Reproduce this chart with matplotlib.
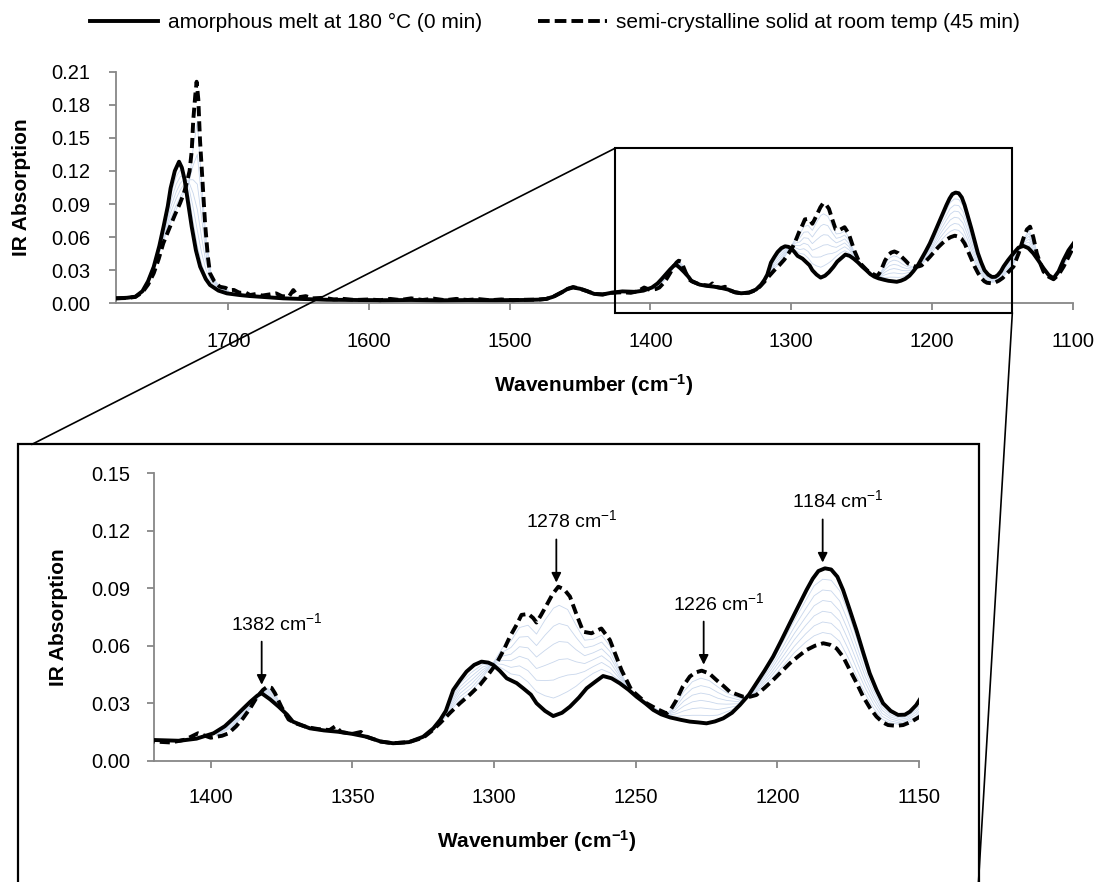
import numpy as np
import matplotlib
matplotlib.use("Agg")
import matplotlib.pyplot as plt
from matplotlib.lines import Line2D
from matplotlib.patches import Rectangle

plt.rcParams['font.family'] = ['Liberation Sans', 'DejaVu Sans']
plt.rcParams['mathtext.fontset'] = 'custom'
plt.rcParams['mathtext.rm'] = 'Liberation Sans'
plt.rcParams['mathtext.it'] = 'Liberation Sans'
plt.rcParams['mathtext.bf'] = 'Liberation Sans:bold'

# ---------------- data ----------------
series_labels = ["amorphous melt at 180 °C (0 min)",
                 "semi-crystalline solid at room temp (45 min)"]

wn_solid = [1780, 1772, 1766, 1761, 1757, 1753, 1749, 1746, 1743, 1741, 1738, 1735, 1733, 1731,
            1729, 1726, 1723, 1720, 1716, 1713, 1707, 1701, 1692, 1685, 1672, 1661, 1645, 1630,
            1610, 1590, 1570, 1550, 1530, 1510, 1490, 1480, 1474, 1469, 1463, 1459, 1455, 1450,
            1445, 1440, 1434, 1428, 1420, 1411, 1405, 1399, 1395, 1392, 1389, 1386, 1383.5, 1382,
            1379, 1376, 1373, 1371, 1368, 1365, 1360, 1355, 1350, 1345, 1340, 1335.6, 1330, 1325,
            1321.4, 1319, 1317, 1314.4, 1312, 1309.7, 1307, 1304.4, 1302, 1300.3, 1298, 1295.5,
            1292, 1289.7, 1287, 1285, 1282, 1279.1, 1276, 1273.2, 1270, 1267.3, 1264, 1261.5,
            1258.5, 1255.6, 1252.5, 1249.7, 1246.5, 1243.8, 1241, 1237.9, 1234, 1230.9, 1228,
            1225, 1222, 1219.1, 1216, 1213.2, 1210, 1207.4, 1204.5, 1201.5, 1198.5, 1195.6,
            1192.6, 1189.7, 1187.5, 1185.5, 1183.2, 1181, 1178.8, 1176.8, 1174.5, 1172.1, 1169.7,
            1167.4, 1165, 1162.7, 1160, 1157.4, 1155, 1153.2, 1151, 1149.1, 1146, 1142.1, 1138.5,
            1135, 1131.5, 1128, 1124.5, 1120.7, 1117, 1113.6, 1110, 1106.5, 1103, 1099.4]
abs_solid = [.0045, .0050, .0060, .0110, .0200, .0330, .0520, .0695, .0880, .1043, .1200, .1284,
             .1230, .1118, .0950, .0695, .0480, .0332, .0220, .0166, .0115, .0090, .0075, .0066,
             .0055, .0045, .0038, .0032, .0030, .0028, .0030, .0027, .0029, .0028, .0030, .0033,
             .0040, .0060, .0100, .0130, .0143, .0132, .0110, .0085, .0080, .0095, .0108, .0104,
             .0115, .0143, .0180, .0221, .0265, .0308, .0340, .0352, .0320, .0282, .0240, .0204,
             .0186, .0169, .0158, .0151, .0140, .0125, .0100, .0091, .0097, .0125, .0169, .0213,
             .0260, .0369, .0420, .0465, .0500, .0517, .0512, .0500, .0470, .0430, .0405, .0378,
             .0345, .0300, .0260, .0233, .0250, .0282, .0330, .0378, .0415, .0442, .0430, .0404,
             .0370, .0334, .0298, .0265, .0242, .0226, .0213, .0204, .0200, .0195, .0205, .0221,
             .0250, .0291, .0345, .0404, .0470, .0543, .0630, .0717, .0805, .0891, .0950, .0990,
             .1004, .0998, .0960, .0891, .0790, .0682, .0565, .0456, .0370, .0300, .0260, .0239,
             .0240, .0256, .0290, .0334, .0390, .0453, .0505, .0520, .0500, .0453, .0390, .0317,
             .0255, .0227, .0290, .0393, .0480, .0544]

wn_dash = [1780, 1772, 1766, 1761, 1757, 1753, 1749.5, 1746.2, 1743.5, 1741.4, 1738, 1734.3, 1731.5,
           1729.6, 1727.5, 1726, 1724.9, 1723.5, 1722.5, 1721.3, 1720.1, 1718.3, 1716.5, 1714.5,
           1713, 1710, 1706, 1702, 1699, 1696, 1692, 1688, 1684.6, 1680, 1676, 1671, 1666, 1662,
           1657, 1653.8, 1650, 1645, 1640, 1632, 1625, 1618, 1610, 1600, 1592, 1585, 1578, 1570,
           1562, 1554, 1546, 1538, 1530, 1522, 1514, 1506, 1498, 1490, 1480, 1474, 1469, 1463,
           1459, 1455, 1450, 1445, 1440, 1434, 1428, 1420, 1414, 1409, 1404.5, 1400, 1396, 1393.7,
           1391, 1388.6, 1386, 1383.6, 1381.5, 1380, 1378.5, 1377.3, 1375, 1372.5, 1370, 1366,
           1362, 1358, 1356, 1354, 1350, 1347, 1345, 1340, 1335.6, 1330, 1325, 1322, 1319.1,
           1315.5, 1312, 1308.5, 1305, 1302, 1299.1, 1296.5, 1294.4, 1292, 1290.3, 1287.9, 1286.2,
           1285, 1283.4, 1281.4, 1279.3, 1277.3, 1275.3, 1273.2, 1270.8, 1268.5, 1265.6, 1262.1,
           1259.1, 1257, 1255, 1251.5, 1248.5, 1246.2, 1242.5, 1239.1, 1237.5, 1235.6, 1233.4,
           1230.9, 1229, 1226.7, 1224, 1221.5, 1219, 1216.8, 1212.1, 1209.6, 1207.4, 1204.5,
           1201.5, 1198.5, 1195.6, 1192.6, 1189.7, 1186.7, 1183.8, 1181.4, 1179.1, 1176.7, 1174.4,
           1172, 1169.7, 1167.3, 1165, 1162.8, 1160.9, 1158, 1155.6, 1152.5, 1149.7, 1146, 1142.1,
           1138.5, 1135, 1132.5, 1130.3, 1128, 1125.5, 1123, 1120.7, 1117, 1113.6, 1110, 1106.5,
           1103, 1099.4]
abs_dash = [.0045, .0048, .0058, .0100, .0170, .0272, .0400, .0544, .0630, .0695, .0800, .0907, .1000,
            .1088, .1200, .1380, .1660, .1880, .2009, .1850, .1480, .1100, .0725, .0420, .0272,
            .0200, .0150, .0140, .0120, .0121, .0095, .0100, .0075, .0085, .0070, .0080, .0090,
            .0065, .0060, .0120, .0055, .0065, .0045, .0050, .0035, .0040, .0030, .0035, .0028,
            .0040, .0030, .0045, .0030, .0042, .0028, .0040, .0030, .0038, .0028, .0035, .0028,
            .0032, .0033, .0040, .0060, .0100, .0130, .0148, .0132, .0110, .0085, .0080, .0095,
            .0100, .0095, .0110, .0143, .0120, .0130, .0143, .0180, .0221, .0275, .0334, .0370,
            .0386, .0380, .0352, .0280, .0215, .0195, .0175, .0165, .0160, .0180, .0150, .0140,
            .0150, .0125, .0100, .0091, .0097, .0120, .0155, .0195, .0250, .0300, .0345, .0395,
            .0450, .0508, .0580, .0647, .0710, .0761, .0766, .0745, .0721, .0760, .0813, .0870,
            .0908, .0895, .0857, .0760, .0673, .0665, .0690, .0630, .0550, .0473, .0369, .0330,
            .0300, .0270, .0247, .0270, .0317, .0386, .0439, .0460, .0470, .0455, .0421, .0390,
            .0360, .0334, .0334, .0343, .0380, .0421, .0465, .0508, .0545, .0578, .0600, .0613,
            .0605, .0586, .0540, .0473, .0405, .0334, .0275, .0230, .0200, .0186, .0182, .0186,
            .0205, .0230, .0280, .0332, .0450, .0590, .0670, .0695, .0600, .0453, .0360, .0287,
            .0240, .0218, .0260, .0332, .0420, .0513]

# intermediate spectra (6 curves), carbonyl region: rows = wavenumber, columns = curve
mid_wn_co = [1760, 1752, 1746, 1741, 1737, 1734, 1731, 1728, 1725, 1722, 1719, 1716, 1712, 1706, 1700]
mid_co = [
    [.013, .013, .013, .012, .012, .012],
    [.039, .038, .037, .036, .035, .034],
    [.069, .066, .063, .061, .059, .057],
    [.098, .092, .087, .082, .077, .073],
    [.115, .108, .101, .095, .089, .085],
    [.121, .115, .109, .103, .097, .094],
    [.116, .116, .113, .109, .104, .101],
    [.098, .105, .110, .112, .110, .108],
    [.074, .087, .100, .112, .125, .140],
    [.052, .066, .085, .108, .135, .165],
    [.036, .046, .060, .078, .095, .110],
    [.025, .031, .038, .046, .055, .062],
    [.017, .019, .021, .022, .024, .025],
    [.012, .013, .013, .014, .014, .015],
    [.010, .010, .011, .011, .011, .012],
]

mid_wn_382 = [1398, 1392, 1387, 1383, 1380, 1377, 1373]
mid_382 = [
    [.0147, .0143, .0140, .0136, .0132, .0129],
    [.0214, .0207, .0200, .0193, .0186, .0180],
    [.0283, .0277, .0270, .0265, .0259, .0254],
    [.0343, .0340, .0338, .0336, .0334, .0332],
    [.0343, .0350, .0358, .0365, .0372, .0379],
    [.0300, .0310, .0320, .0328, .0336, .0344],
    [.0238, .0235, .0232, .0228, .0222, .0216],
]

mid_wn_fp = [1318, 1312, 1308, 1304, 1300, 1297, 1294, 1291, 1288, 1285, 1282, 1279, 1277, 1274,
             1271, 1268, 1265, 1262, 1259, 1256, 1253, 1250, 1246, 1242, 1239, 1236, 1233, 1230,
             1227, 1224, 1221, 1218, 1214, 1210, 1206, 1202, 1198, 1194, 1190, 1187, 1184, 1181,
             1178, 1175, 1172, 1169, 1166, 1163, 1160, 1157, 1154, 1151, 1147, 1143, 1139, 1135,
             1131, 1127, 1123, 1119, 1115, 1110, 1105, 1100]
mid_fp = [
    [.0236, .0231, .0227, .0223, .0219, .0214],
    [.0403, .0386, .0369, .0351, .0334, .0317],
    [.0460, .0440, .0420, .0400, .0380, .0360],
    [.0503, .0489, .0475, .0462, .0448, .0434],
    [.0503, .0506, .0509, .0511, .0514, .0517],
    [.0481, .0503, .0524, .0546, .0567, .0589],
    [.0453, .0487, .0522, .0556, .0591, .0625],
    [.0445, .0495, .0545, .0595, .0645, .0695],
    [.0411, .0470, .0530, .0589, .0648, .0707],
    [.0360, .0420, .0481, .0541, .0601, .0661],
    [.0339, .0418, .0497, .0576, .0655, .0734],
    [.0327, .0421, .0515, .0608, .0702, .0796],
    [.0339, .0434, .0528, .0622, .0716, .0811],
    [.0361, .0447, .0532, .0618, .0704, .0789],
    [.0389, .0452, .0516, .0579, .0643, .0706],
    [.0426, .0466, .0507, .0548, .0589, .0629],
    [.0456, .0491, .0527, .0563, .0599, .0634],
    [.0477, .0513, .0548, .0584, .0619, .0655],
    [.0458, .0486, .0514, .0541, .0569, .0597],
    [.0421, .0434, .0447, .0461, .0474, .0487],
    [.0378, .0381, .0384, .0386, .0389, .0392],
    [.0337, .0338, .0338, .0339, .0339, .0340],
    [.0295, .0296, .0296, .0297, .0297, .0298],
    [.0256, .0258, .0259, .0261, .0262, .0264],
    [.0238, .0239, .0241, .0242, .0244, .0245],
    [.0231, .0243, .0254, .0266, .0277, .0289],
    [.0235, .0260, .0285, .0311, .0336, .0361],
    [.0237, .0272, .0307, .0342, .0377, .0412],
    [.0237, .0276, .0315, .0353, .0392, .0431],
    [.0235, .0271, .0308, .0345, .0382, .0418],
    [.0238, .0267, .0297, .0326, .0356, .0385],
    [.0255, .0275, .0295, .0315, .0335, .0355],
    [.0276, .0286, .0297, .0308, .0319, .0329],
    [.0343, .0342, .0340, .0339, .0337, .0336],
    [.0424, .0414, .0403, .0392, .0381, .0371],
    [.0513, .0496, .0479, .0461, .0444, .0427],
    [.0620, .0595, .0570, .0545, .0520, .0495],
    [.0731, .0698, .0664, .0631, .0597, .0564],
    [.0836, .0793, .0749, .0706, .0662, .0619],
    [.0913, .0861, .0809, .0756, .0704, .0652],
    [.0947, .0891, .0836, .0780, .0724, .0669],
    [.0942, .0886, .0830, .0773, .0717, .0661],
    [.0887, .0834, .0781, .0729, .0676, .0623],
    [.0773, .0726, .0679, .0631, .0584, .0537],
    [.0640, .0600, .0560, .0520, .0480, .0440],
    [.0500, .0470, .0440, .0410, .0380, .0350],
    [.0387, .0364, .0341, .0319, .0296, .0273],
    [.0294, .0279, .0263, .0247, .0231, .0216],
    [.0249, .0239, .0228, .0218, .0207, .0197],
    [.0231, .0223, .0215, .0206, .0198, .0190],
    [.0240, .0231, .0223, .0215, .0207, .0198],
    [.0278, .0266, .0254, .0241, .0229, .0217],
    [.0354, .0339, .0323, .0307, .0291, .0276],
    [.0420, .0401, .0383, .0365, .0347, .0328],
    [.0490, .0480, .0470, .0460, .0450, .0440],
    [.0530, .0540, .0550, .0560, .0570, .0580],
    [.0527, .0554, .0582, .0609, .0636, .0663],
    [.0449, .0467, .0486, .0504, .0523, .0541],
    [.0360, .0360, .0360, .0360, .0360, .0360],
    [.0287, .0284, .0281, .0279, .0276, .0273],
    [.0237, .0234, .0231, .0229, .0226, .0223],
    [.0286, .0281, .0277, .0273, .0269, .0264],
    [.0413, .0406, .0399, .0391, .0384, .0377],
    [.0526, .0521, .0517, .0513, .0509, .0504],
]

peak_labels = [1382, 1278, 1226, 1184]

top_xticks = [1700, 1600, 1500, 1400, 1300, 1200, 1100]
top_yticks = [0.00, 0.03, 0.06, 0.09, 0.12, 0.15, 0.18, 0.21]
bot_xticks = [1400, 1350, 1300, 1250, 1200, 1150]
bot_yticks = [0.00, 0.03, 0.06, 0.09, 0.12, 0.15]

# ---------------- figure ----------------
W, H = 1099, 882
fig = plt.figure(figsize=(W / 100, H / 100), dpi=100)
fig.patch.set_facecolor('white')


def fx(px):
    return px / W


def fy(py):
    return 1 - py / H


ax1 = fig.add_axes([fx(115.7), fy(303.3), fx(1072.7) - fx(115.7), fy(71.7) - fy(303.3)])
ax2 = fig.add_axes([fx(154), fy(760.7), fx(919) - fx(154), fy(473.3) - fy(760.7)])

GRAY = '#878787'
MIDC = '#c9d7ec'
LW = 2.8
DASH = (0, (2.6, 1.3))

for ax in (ax1, ax2):
    ax.set_facecolor('none')
    for s in ('top', 'right'):
        ax.spines[s].set_visible(False)
    for s in ('left', 'bottom'):
        ax.spines[s].set_color(GRAY)
        ax.spines[s].set_linewidth(1.3)
    ax.tick_params(direction='out', length=5, width=1.3, color=GRAY,
                   labelsize=14.5, labelcolor='black')

    for wn_seg, tbl in ((mid_wn_co, mid_co), (mid_wn_382, mid_382), (mid_wn_fp, mid_fp)):
        arr = np.array(tbl).T
        for row in arr:
            ax.plot(wn_seg, row, color=MIDC, lw=0.6, zorder=2)
    ax.plot(wn_dash, abs_dash, color='black', lw=LW, linestyle=DASH, zorder=3)
    ax.plot(wn_solid, abs_solid, color='black', lw=LW, zorder=4)

ax1.set_xlim(1780, 1100)
ax1.set_ylim(0, 0.21)
ax1.set_xticks(top_xticks)
ax1.set_yticks(top_yticks)
ax1.yaxis.set_major_formatter(matplotlib.ticker.FormatStrFormatter('%.2f'))
ax1.tick_params(axis='y', pad=13)
ax1.tick_params(axis='x', pad=16)

ax2.set_xlim(1420, 1150)
ax2.set_ylim(0, 0.15)
ax2.set_xticks(bot_xticks)
ax2.set_yticks(bot_yticks)
ax2.yaxis.set_major_formatter(matplotlib.ticker.FormatStrFormatter('%.2f'))
ax2.tick_params(axis='y', pad=12.3)
ax2.tick_params(axis='x', pad=14.5)

# axis titles
fig.text(fx(22), fy(187.5), 'IR Absorption', rotation=90, ha='center', va='center',
         fontsize=15, fontweight='bold')
fig.text(fx(594), fy(391.5), r'Wavenumber (cm$^{\mathbf{-1}}$)', ha='center', va='baseline',
         fontsize=15, fontweight='bold')
fig.text(fx(58), fy(617.5), 'IR Absorption', rotation=90, ha='center', va='center',
         fontsize=15, fontweight='bold')
fig.text(fx(536.5), fy(848.3), r'Wavenumber (cm$^{\mathbf{-1}}$)', ha='center', va='baseline',
         fontsize=15, fontweight='bold')

# peak annotations
ws = np.array(wn_solid)[::-1]
as_ = np.array(abs_solid)[::-1]
wd = np.array(wn_dash)[::-1]
ad = np.array(abs_dash)[::-1]
for p in peak_labels:
    top = max(np.interp(p, ws, as_), np.interp(p, wd, ad))
    tip = top + 0.0035
    tail = tip + 0.0225
    ax2.annotate('', xy=(p, tip), xytext=(p, tail),
                 arrowprops=dict(arrowstyle='-|>', color='black', lw=1.3,
                                 mutation_scale=14, shrinkA=0, shrinkB=0), zorder=6)
    ax2.text(p + 10.7, tail + 0.0062, f'{p} cm$^{{-1}}$', ha='left', va='baseline',
             fontsize=14, zorder=6)

# zoom boxes and connectors (figure pixel layout)
fig.add_artist(Rectangle((fx(615), fy(313.3)), fx(1012.3) - fx(615), fy(148.3) - fy(313.3),
                         transform=fig.transFigure, fill=False, ec='black', lw=1.5, zorder=10))
fig.add_artist(Rectangle((fx(17.7), fy(900)), fx(979) - fx(17.7), fy(444.3) - fy(900),
                         transform=fig.transFigure, fill=False, ec='black', lw=1.6, zorder=10))
fig.add_artist(Line2D([fx(615), fx(32)], [fy(148.3), fy(444.3)], transform=fig.transFigure,
                      color='black', lw=1.2, zorder=10))
fig.add_artist(Line2D([fx(1012.3), fx(978)], [fy(313.3), fy(890)], transform=fig.transFigure,
                      color='black', lw=1.2, zorder=10))

# legend
handles = [Line2D([], [], color='black', lw=LW),
           Line2D([], [], color='black', lw=LW, linestyle=(0, (3.0, 1.3)))]
fig.legend(handles, series_labels, loc='center', bbox_to_anchor=(0.505, fy(22.7)), ncol=2,
           frameon=False, fontsize=15, handlelength=3.3, handletextpad=0.45, columnspacing=2.7)

fig.savefig('out.png', dpi=100, facecolor='white')
